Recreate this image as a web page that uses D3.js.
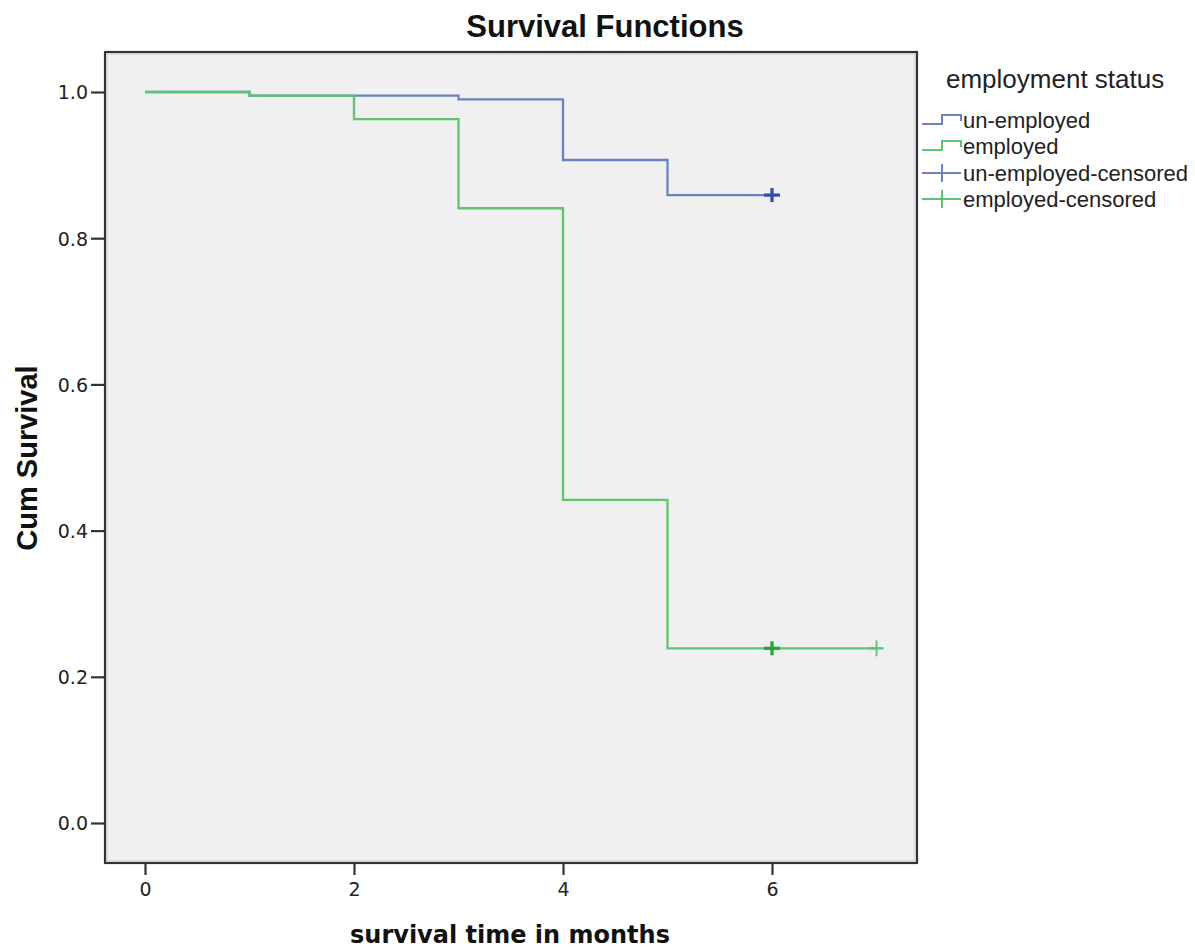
<!DOCTYPE html>
<html><head><meta charset="utf-8">
<script src="https://cdn.jsdelivr.net/npm/d3@7"></script>
<style>body{margin:0;background:#fff}svg{display:block}</style>
</head><body>
<svg id="c" width="1195" height="951"></svg>
<script>
const xTicks = [0, 2, 4, 6];
const yTicks = [0.0, 0.2, 0.4, 0.6, 0.8, 1.0];
const groups = ["un-employed", "employed"];
const unemployedTimes = [0, 1, 3, 4, 5];
const unemployedSurv = [1.0, 0.995, 0.990, 0.907, 0.859];
const unemployedEnd = 6;
const unemployedCensored = [{t: 6, s: 0.859, bold: true}];
const employedTimes = [0, 1, 2, 3, 4, 5];
const employedSurv = [1.0, 0.995, 0.963, 0.841, 0.442, 0.239];
const employedEnd = 7;
const employedCensored = [{t: 6, s: 0.239, bold: true}, {t: 7, s: 0.239, bold: false}];
const legendLabels = ["un-employed", "employed", "un-employed-censored", "employed-censored"];

const lineColors = {"un-employed": "#6b80c6", "employed": "#5ec46d"};
const markColors = {"un-employed": "#2f4ca8", "employed": "#1fa53b"};

const svg = d3.select("#c");
const x = d3.scaleLinear().domain([0, 6]).range([145, 772]);
const y = d3.scaleLinear().domain([0, 1]).range([823, 92]);
const frame = {l: 105, r: 917, t: 52, b: 863};

svg.append("rect").attr("x", frame.l).attr("y", frame.t)
  .attr("width", frame.r - frame.l).attr("height", frame.b - frame.t)
  .attr("fill", "#f0f0f0");

function stepPath(times, surv, end) {
  const pts = [];
  for (let i = 0; i < times.length; i++) {
    if (i > 0) pts.push([times[i], surv[i - 1]]);
    pts.push([times[i], surv[i]]);
  }
  pts.push([end, surv[surv.length - 1]]);
  return d3.line().x(d => x(d[0])).y(d => y(d[1]))(pts);
}
const series = [
  {g: "un-employed", times: unemployedTimes, surv: unemployedSurv, end: unemployedEnd, cens: unemployedCensored},
  {g: "employed", times: employedTimes, surv: employedSurv, end: employedEnd, cens: employedCensored}
];
series.forEach(s => {
  svg.append("path").attr("d", stepPath(s.times, s.surv, s.end))
    .attr("fill", "none").attr("stroke", lineColors[s.g]).attr("stroke-width", 2.3)
    .attr("stroke-linejoin", "miter");
});
series.forEach(s => {
  s.cens.forEach(c => {
    const cx = x(c.t), cy = y(c.s);
    const h = c.bold ? 7 : 8, w = c.bold ? 8 : 7;
    const sw = c.bold ? 3.2 : 1.8;
    const col = c.bold ? markColors[s.g] : lineColors[s.g];
    svg.append("line").attr("x1", cx).attr("x2", cx).attr("y1", cy - h).attr("y2", cy + h)
      .attr("stroke", col).attr("stroke-width", sw);
    svg.append("line").attr("x1", cx - w).attr("x2", cx + w).attr("y1", cy).attr("y2", cy)
      .attr("stroke", col).attr("stroke-width", c.bold ? sw : 2.3);
  });
});

// frame
svg.append("rect").attr("x", frame.l).attr("y", frame.t)
  .attr("width", frame.r - frame.l).attr("height", frame.b - frame.t)
  .attr("fill", "none").attr("stroke", "#333").attr("stroke-width", 2.2);
svg.append("rect").attr("x", frame.l + 2).attr("y", frame.t + 2)
  .attr("width", frame.r - frame.l - 4).attr("height", frame.b - frame.t - 4)
  .attr("fill", "none").attr("stroke", "#c8c8c8").attr("stroke-width", 1);

// axes
const yAxis = d3.axisLeft(y).tickValues(yTicks).tickFormat(d3.format(".1f")).tickSize(13).tickSizeOuter(0).tickPadding(3);
const gy = svg.append("g").attr("transform", `translate(${frame.l - 1},0)`).call(yAxis);
gy.select(".domain").remove();
gy.selectAll(".tick line").attr("stroke", "#333").attr("stroke-width", 2.2);
gy.selectAll(".tick text").attr("font-family", "DejaVu Sans, sans-serif").attr("font-size", 19).attr("fill", "#222").attr("dy", "0.36em");

const xAxis = d3.axisBottom(x).tickValues(xTicks).tickFormat(d3.format("d")).tickSize(11).tickSizeOuter(0).tickPadding(8);
const gx = svg.append("g").attr("transform", `translate(0,${frame.b + 1})`).call(xAxis);
gx.select(".domain").remove();
gx.selectAll(".tick line").attr("stroke", "#333").attr("stroke-width", 2.2);
gx.selectAll(".tick text").attr("font-family", "DejaVu Sans, sans-serif").attr("font-size", 19).attr("fill", "#222");

// titles
svg.append("text").attr("x", 605).attr("y", 37).attr("text-anchor", "middle")
  .attr("font-family", "Liberation Sans, Arial, sans-serif").attr("font-weight", "bold").attr("font-size", 31)
  .attr("fill", "#111").text("Survival Functions");
svg.append("text").attr("x", 510).attr("y", 943).attr("text-anchor", "middle")
  .attr("font-family", "DejaVu Sans, sans-serif").attr("font-weight", "bold").attr("font-size", 24)
  .attr("fill", "#111").text("survival time in months");
svg.append("text").attr("transform", "translate(37,458) rotate(-90)").attr("text-anchor", "middle")
  .attr("font-family", "Liberation Sans, Arial, sans-serif").attr("font-weight", "bold").attr("font-size", 29)
  .attr("fill", "#111").text("Cum Survival");

// legend
svg.append("text").attr("x", 946).attr("y", 88)
  .attr("font-family", "Liberation Sans, Arial, sans-serif").attr("font-size", 26)
  .attr("fill", "#222").text("employment status");
const legY = [120, 146, 173, 199];
legendLabels.forEach((lab, i) => {
  const g = i % 2 === 0 ? "un-employed" : "employed";
  const cy = legY[i];
  if (i < 2) {
    const p = d3.path();
    p.moveTo(922, cy + 4); p.lineTo(942, cy + 4); p.lineTo(942, cy - 5); p.lineTo(961, cy - 5); p.lineTo(961, cy + 1);
    svg.append("path").attr("d", p.toString()).attr("fill", "none")
      .attr("stroke", lineColors[g]).attr("stroke-width", 2);
  } else {
    svg.append("line").attr("x1", 922).attr("x2", 961).attr("y1", cy).attr("y2", cy)
      .attr("stroke", lineColors[g]).attr("stroke-width", 2);
    svg.append("line").attr("x1", 942).attr("x2", 942).attr("y1", cy - 9).attr("y2", cy + 9)
      .attr("stroke", lineColors[g]).attr("stroke-width", 2);
  }
  svg.append("text").attr("x", 963).attr("y", cy + 8)
    .attr("font-family", "Liberation Sans, Arial, sans-serif").attr("font-size", 22)
    .attr("fill", "#222").text(lab);
});
</script>
</body></html>
